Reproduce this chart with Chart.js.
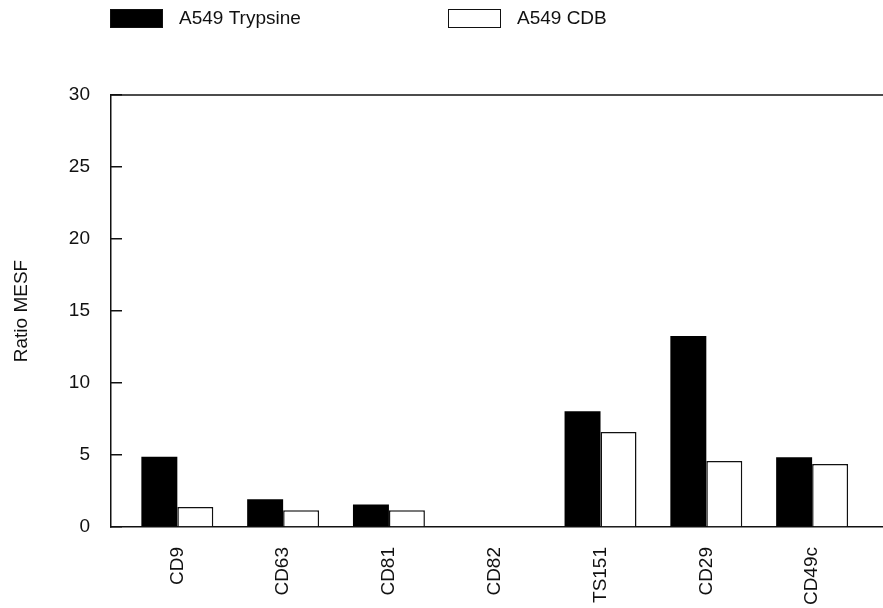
<!DOCTYPE html>
<html>
<head>
<meta charset="utf-8">
<script src="https://cdn.jsdelivr.net/npm/chart.js@4/dist/chart.umd.min.js"></script>
<style>
  html, body { margin: 0; padding: 0; background: #fff; }
  #wrap { width: 883px; height: 608px; position: relative; }
</style>
</head>
<body>
<div id="wrap"><canvas id="ratioChart"></canvas></div>
<script>
const categories = ['CD9', 'CD63', 'CD81', 'CD82', 'TS151', 'CD29', 'CD49c'];
const trypsine = [4.87, 1.92, 1.57, 0, 8.04, 13.27, 4.85];
const cdb = [1.39, 1.16, 1.16, 0, 6.6, 4.58, 4.37];
const yTicks = [0, 5, 10, 15, 20, 25, 30];

const FONT = "'Liberation Sans', Arial, sans-serif";
const ink = '#111';

function toPoints(values) {
  return values.map((v, i) => ({ x: i, y: v }));
}

// legend drawn by hand so the two items sit where the scan has them
const legendPlugin = {
  id: 'scanLegend',
  afterDraw(chart) {
    const c = chart.ctx;
    const spots = [110, 448];
    c.save();
    c.font = '19px ' + FONT;
    c.textBaseline = 'middle';
    chart.data.datasets.forEach((ds, i) => {
      const x = spots[i];
      c.fillStyle = ds.backgroundColor;
      c.fillRect(x, 9, 53, 19);
      c.strokeStyle = ink;
      c.lineWidth = 1;
      c.strokeRect(x + 0.5, 9.5, 52, 18);
      c.fillStyle = ink;
      c.fillText(ds.label, x + 69, 19);
    });
    c.restore();
  }
};

// top edge of the frame
const frameTop = {
  id: 'frameTop',
  afterDraw(chart) {
    const { ctx: c, chartArea: a } = chart;
    c.save();
    c.strokeStyle = ink;
    c.lineWidth = 1.5;
    c.beginPath();
    c.moveTo(a.left, a.top);
    c.lineTo(a.right, a.top);
    c.stroke();
    c.restore();
  }
};

const chart = new Chart(document.getElementById('ratioChart'), {
  type: 'bar',
  data: {
    datasets: [
      {
        label: 'A549 Trypsine',
        data: toPoints(trypsine),
        backgroundColor: '#000',
        borderColor: '#000',
        borderWidth: 0,
        categoryPercentage: 0.68,
        barPercentage: 1.0
      },
      {
        label: 'A549 CDB',
        data: toPoints(cdb),
        backgroundColor: '#fff',
        borderColor: ink,
        borderWidth: 1.5,
        categoryPercentage: 0.68,
        barPercentage: 1.0
      }
    ]
  },
  options: {
    responsive: true,
    maintainAspectRatio: false,
    animation: false,
    layout: { padding: { top: 95, left: 0, right: 0, bottom: 0 } },
    plugins: {
      legend: { display: false },
      tooltip: { enabled: false }
    },
    scales: {
      x: {
        type: 'linear',
        offset: false,
        min: -0.627,
        max: 6.67,
        grid: { display: false, offset: false },
        border: { display: true, color: ink, width: 1.5 },
        afterBuildTicks: scale => {
          scale.ticks = categories.map((c, i) => ({ value: i }));
        },
        afterFit: scale => { scale.height = 81; },
        ticks: {
          autoSkip: false,
          minRotation: 90,
          maxRotation: 90,
          padding: 12,
          color: ink,
          font: { family: FONT, size: 19 },
          callback: v => categories[v] ?? ''
        }
      },
      y: {
        min: 0,
        max: 30,
        afterBuildTicks: scale => {
          scale.ticks = yTicks.map(v => ({ value: v }));
        },
        afterFit: scale => { scale.width = 111; },
        grid: {
          drawOnChartArea: false,
          drawTicks: true,
          tickLength: -11,
          color: ink,
          lineWidth: 1.5
        },
        border: { display: true, color: ink, width: 1.5 },
        ticks: {
          padding: 32,
          color: ink,
          font: { family: FONT, size: 19 }
        },
        title: {
          display: true,
          text: 'Ratio MESF',
          color: ink,
          padding: { top: 10, bottom: 0 },
          font: { family: FONT, size: 19 }
        }
      }
    }
  },
  plugins: [legendPlugin, frameTop]
});
</script>
</body>
</html>
